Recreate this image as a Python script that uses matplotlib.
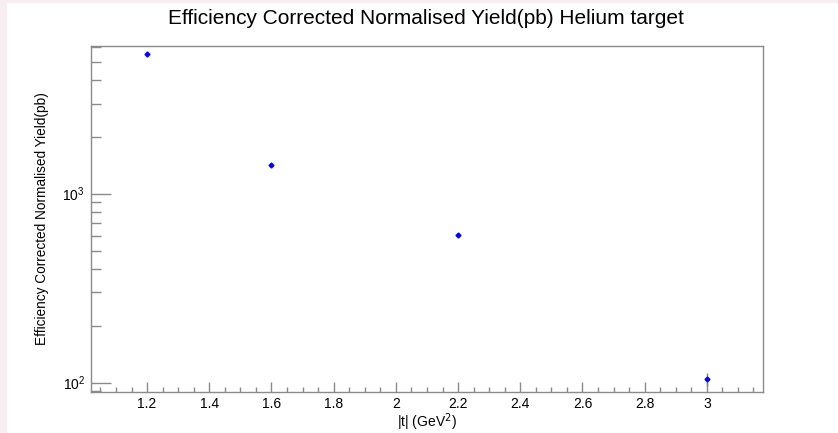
import matplotlib
matplotlib.use("Agg")
import matplotlib.pyplot as plt
from matplotlib.patches import Rectangle
from matplotlib.ticker import FixedLocator, FuncFormatter, LogLocator, NullFormatter

plt.rcParams["font.family"] = ["Liberation Sans", "DejaVu Sans"]

# |t| bins and efficiency corrected yields (pb)
t_vals = [1.2, 1.6, 2.2, 3.0]
yield_pb = [5480, 1420, 605, 104]
yield_err = [40, 20, 10, 8]

x_major = [1.2, 1.4, 1.6, 1.8, 2.0, 2.2, 2.4, 2.6, 2.8, 3.0]

fig = plt.figure(figsize=(8.38, 4.33), dpi=100, facecolor="#f8eef2")
# white canvas inside the thin pink border
fig.patches.append(Rectangle((7 / 838, 0), 1, 1 - 3 / 433, transform=fig.transFigure,
                             facecolor="white", edgecolor="none", zorder=-5))

ax = fig.add_axes([0.108, 0.0955, 0.803, 0.798])
ax.errorbar(t_vals, yield_pb, yerr=yield_err, fmt="D", color="blue", ms=2.5,
            ecolor="gray", elinewidth=1, capsize=0)

ax.set_yscale("log")
ax.set_xlim(1.018, 3.182)
ax.set_ylim(89.6, 6040)

ax.xaxis.set_major_locator(FixedLocator(x_major))
ax.xaxis.set_minor_locator(FixedLocator([1.05 + 0.05 * i for i in range(43)]))
ax.xaxis.set_major_formatter(FuncFormatter(lambda v, p: "%g" % round(v, 2)))
ax.yaxis.set_major_locator(LogLocator(base=10, numticks=10))
ax.yaxis.set_minor_locator(LogLocator(base=10, subs=range(2, 10), numticks=10))
ax.yaxis.set_minor_formatter(NullFormatter())

frame_col = "#8a8a8a"
for s in ax.spines.values():
    s.set_color(frame_col)
    s.set_linewidth(1.0)

ax.tick_params(axis="x", which="both", direction="in", color=frame_col, top=False,
               labelsize=10, pad=4)
ax.tick_params(axis="x", which="major", length=7.2, width=1)
ax.tick_params(axis="x", which="minor", length=3.6, width=1)
ax.tick_params(axis="y", which="both", direction="in", color=frame_col, right=False,
               labelsize=10, pad=4)
ax.tick_params(axis="y", which="major", length=14.4, width=1)
ax.tick_params(axis="y", which="minor", length=7.2, width=1)

ax.set_xlabel("|t| (GeV$^2$)", fontsize=10, labelpad=0)
ax.set_ylabel("Efficiency Corrected Normalised Yield(pb)", fontsize=9.8, labelpad=10)
fig.text(0.508, 0.957, "Efficiency Corrected Normalised Yield(pb) Helium target",
         ha="center", va="center", fontsize=15)

fig.savefig("out.png", dpi=100, facecolor=fig.get_facecolor())
